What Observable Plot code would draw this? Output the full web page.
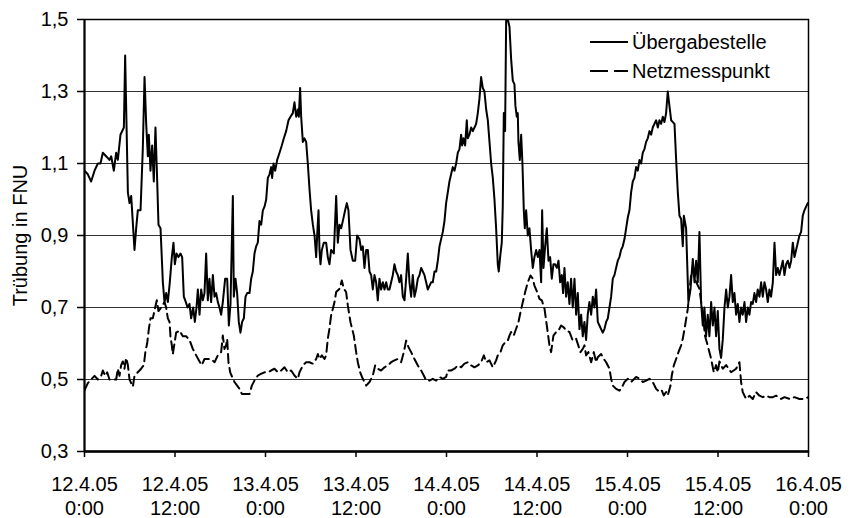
<!DOCTYPE html>
<html>
<head>
<meta charset="utf-8">
<script src="https://cdn.jsdelivr.net/npm/d3@7"></script>
<script src="https://cdn.jsdelivr.net/npm/@observablehq/plot@0.6"></script>
<style>
  html, body { margin: 0; padding: 0; background: #fff; }
  #chart { position: relative; width: 858px; height: 518px; }
</style>
</head>
<body>
<div id="chart"></div>
<script>
// Hours since 12.4.05 0:00 and turbidity (FNU)
const seriesNames = ["Übergabestelle", "Netzmesspunkt"];

const uebergabe = [
[0,1.08],[0.44,1.07],[0.88,1.05],[1.33,1.08],[1.77,1.10],[2.12,1.10],[2.43,1.13],[2.87,1.12],[3.31,1.11],[3.54,1.12],[3.89,1.08],[4.20,1.13],[4.42,1.11],[4.77,1.18],[5.22,1.20],[5.39,1.40],[5.57,1.21],[5.75,1.02],[5.97,0.99],[6.19,1.01],[6.63,0.86],[6.85,0.92],[7.07,0.97],[7.43,0.97],[7.73,1.14],[7.96,1.34],[8.18,1.21],[8.40,1.12],[8.53,1.18],[8.75,1.08],[8.97,1.15],[9.19,1.05],[9.41,1.20],[9.64,1.05],[9.81,0.93],[10.08,0.92],[10.39,0.77],[10.61,0.715],[10.83,0.74],[11.05,0.715],[11.31,0.77],[11.58,0.84],[11.80,0.88],[11.98,0.82],[12.20,0.85],[12.46,0.84],[12.73,0.85],[12.95,0.84],[13.17,0.73],[13.44,0.715],[13.66,0.70],[13.92,0.71],[14.14,0.67],[14.41,0.70],[14.63,0.66],[14.85,0.70],[15.03,0.75],[15.25,0.68],[15.47,0.75],[15.69,0.72],[15.91,0.74],[16.13,0.85],
[16.35,0.72],[16.57,0.78],[16.79,0.715],[17.02,0.79],[17.24,0.73],[17.46,0.74],[17.68,0.715],[17.90,0.70],[18.12,0.68],[18.34,0.715],[18.65,0.78],[18.92,0.78],[19.14,0.65],[19.36,0.71],[19.67,1.01],[19.80,0.73],[20.02,0.78],[20.24,0.74],[20.46,0.66],[20.68,0.63],[20.90,0.66],[21.13,0.67],[21.35,0.73],[21.57,0.74],[21.88,0.74],[22.10,0.78],[22.32,0.80],[22.54,0.85],[22.76,0.87],[22.98,0.88],[23.20,0.94],[23.43,0.93],[23.65,0.97],[23.87,0.98],[24.09,1.00],[24.31,1.06],[24.53,1.07],[24.75,1.09],[24.88,1.06],[25.06,1.10],[25.28,1.08],[25.55,1.11],[25.86,1.13],[26.16,1.15],[26.43,1.17],[26.74,1.19],[27.05,1.22],[27.31,1.23],[27.62,1.24],[27.84,1.27],[28.07,1.23],[28.29,1.25],[28.42,1.23],[28.59,1.31],[28.73,1.23],[28.95,1.16],[29.17,1.17],[29.39,1.16],[29.61,1.10],[29.83,1.03],[30.05,0.97],[30.28,0.93],[30.50,0.90],[30.72,0.84],[30.85,0.90],[31.03,0.97],[31.16,0.86],[31.29,0.82],[31.47,0.86],[31.73,0.88],
[32.04,0.88],[32.26,0.84],[32.48,0.82],[32.70,0.86],[33.06,0.85],[33.37,1.01],[33.59,0.88],[33.81,0.93],[34.03,0.92],[34.25,0.94],[34.56,0.97],[34.78,0.99],[35.00,0.97],[35.27,0.86],[35.58,0.83],[35.89,0.83],[36.15,0.90],[36.46,0.89],[36.68,0.86],[36.90,0.87],[37.12,0.81],[37.35,0.86],[37.57,0.86],[37.79,0.80],[38.01,0.79],[38.23,0.75],[38.45,0.79],[38.67,0.77],[38.89,0.72],[39.11,0.78],[39.33,0.75],[39.56,0.77],[39.78,0.75],[40.00,0.77],[40.22,0.75],[40.44,0.75],[40.66,0.77],[40.88,0.79],[41.10,0.82],[41.32,0.80],[41.54,0.79],[41.76,0.77],[41.98,0.79],[42.21,0.73],[42.43,0.72],[42.65,0.78],[42.87,0.85],[43.09,0.77],[43.31,0.73],[43.53,0.79],[43.75,0.73],[43.97,0.75],[44.20,0.78],[44.42,0.79],[44.64,0.81],[44.86,0.80],[45.08,0.79],[45.30,0.77],[45.52,0.75],[45.74,0.76],[45.96,0.77],[46.18,0.77],[46.41,0.80],[46.63,0.80],[46.85,0.83],[47.07,0.87],[47.29,0.89],[47.51,0.91],[47.73,0.94],[47.95,0.99],
[48.17,1.02],[48.39,1.05],[48.61,1.07],[48.83,1.09],[49.06,1.08],[49.28,1.10],[49.50,1.13],[49.72,1.14],[49.94,1.18],[50.07,1.15],[50.25,1.17],[50.47,1.15],[50.69,1.22],[50.82,1.17],[51.04,1.18],[51.27,1.20],[51.49,1.19],[51.71,1.20],[51.93,1.21],[52.15,1.24],[52.37,1.28],[52.59,1.34],[52.81,1.31],[53.03,1.30],[53.26,1.25],[53.48,1.22],[53.70,1.16],[53.92,1.10],[54.14,1.06],[54.36,1.00],[54.58,0.92],[54.80,0.82],[54.93,0.80],[55.11,0.84],[55.33,0.88],[55.46,0.98],[55.60,1.24],[55.77,1.19],[55.91,1.50],[56.13,1.50],[56.35,1.48],[56.57,1.39],[56.79,1.33],[57.01,1.32],[57.14,1.26],[57.32,1.23],[57.45,1.24],[57.54,1.16],[57.72,1.11],[57.90,1.18],[58.07,1.10],[58.25,0.97],[58.38,0.92],[58.56,0.97],[58.78,0.90],[59.00,0.92],[59.22,0.86],[59.44,0.81],[59.66,0.84],[59.89,0.86],[60.11,0.84],[60.33,0.86],[60.55,0.77],[60.68,0.97],[60.86,0.81],[61.08,0.87],[61.30,0.92],[61.52,0.83],[61.74,0.84],[61.96,0.78],[62.18,0.82],[62.40,0.82],[62.63,0.81],[62.85,0.83],[63.07,0.77],[63.29,0.79],[63.46,0.74],
[63.64,0.81],[63.86,0.73],[64.08,0.77],[64.30,0.71],[64.52,0.78],[64.74,0.70],[64.97,0.78],[65.19,0.68],[65.41,0.74],[65.63,0.64],[65.85,0.68],[66.07,0.62],[66.29,0.66],[66.51,0.61],[66.73,0.68],[66.95,0.715],[67.18,0.68],[67.40,0.73],[67.62,0.70],[67.84,0.75],[68.06,0.66],[68.28,0.65],[68.50,0.64],[68.72,0.63],[68.94,0.64],[69.17,0.66],[69.39,0.67],[69.61,0.70],[69.83,0.73],[70.05,0.78],[70.27,0.79],[70.49,0.81],[70.71,0.83],[70.93,0.84],[71.15,0.86],[71.37,0.87],[71.60,0.89],[71.82,0.92],[72.04,0.95],[72.26,0.97],[72.48,1.02],[72.70,1.05],[72.92,1.06],[73.14,1.09],[73.36,1.08],[73.59,1.11],[73.81,1.10],[74.03,1.13],[74.25,1.14],[74.47,1.16],[74.69,1.17],[74.91,1.19],[75.13,1.18],[75.35,1.20],[75.57,1.21],[75.80,1.22],[76.02,1.20],[76.24,1.22],[76.46,1.21],[76.68,1.23],[76.90,1.215],[77.12,1.24],[77.34,1.30],[77.56,1.26],[77.79,1.22],[78.23,1.21],[78.45,1.11],[78.67,1.02],[78.89,0.955],[79.11,0.946],[79.33,0.87],[79.47,0.955],
[79.77,0.92],[80.08,0.715],[80.35,0.75],[80.66,0.835],[80.88,0.77],[81.10,0.83],[81.32,0.77],[81.54,0.91],[81.76,0.715],[81.98,0.65],[82.20,0.70],[82.42,0.62],[82.64,0.68],[82.86,0.62],[83.09,0.715],[83.31,0.65],[83.53,0.70],[83.75,0.62],[83.97,0.69],[84.19,0.585],[84.41,0.56],[84.63,0.61],[84.86,0.70],[85.08,0.75],[85.30,0.70],[85.52,0.73],[85.74,0.79],[85.96,0.715],[86.18,0.74],[86.40,0.68],[86.62,0.71],[86.84,0.66],[87.06,0.70],[87.28,0.68],[87.51,0.715],[87.73,0.66],[87.95,0.70],[88.17,0.68],[88.39,0.715],[88.61,0.71],[88.83,0.74],[89.05,0.715],[89.27,0.75],[89.50,0.73],[89.72,0.77],[89.94,0.73],[90.16,0.77],[90.38,0.75],[90.60,0.715],[90.82,0.75],[91.04,0.73],[91.27,0.77],[91.49,0.88],[91.71,0.79],[91.93,0.81],[92.15,0.79],[92.37,0.81],[92.59,0.83],[92.81,0.79],[93.03,0.82],[93.26,0.83],[93.48,0.81],[93.70,0.83],[93.92,0.88],[94.14,0.84],[94.36,0.86],[94.58,0.88],[94.80,0.90],[95.02,0.91],[95.24,0.955],[95.46,0.97],[95.68,0.98],[95.90,0.99]
];

const netz = [
[0,0.47],[0.44,0.49],[0.88,0.50],[1.33,0.51],[1.77,0.50],[2.21,0.51],[2.43,0.525],[2.74,0.51],[3.01,0.52],[3.31,0.50],[3.76,0.50],[4.20,0.50],[4.42,0.53],[4.64,0.51],[4.86,0.54],[5.08,0.55],[5.30,0.53],[5.52,0.56],[5.75,0.54],[5.97,0.50],[6.19,0.49],[6.41,0.48],[6.63,0.51],[7.07,0.52],[7.51,0.53],[7.87,0.54],[8.09,0.58],[8.31,0.60],[8.53,0.64],[8.75,0.67],[9.06,0.67],[9.37,0.70],[9.59,0.72],[9.81,0.69],[10.17,0.70],[10.61,0.715],[10.83,0.70],[11.05,0.67],[11.27,0.66],[11.40,0.62],[11.58,0.595],[11.71,0.57],[12.15,0.63],[12.60,0.636],[13.04,0.62],[13.48,0.62],[13.92,0.61],[14.36,0.585],[14.81,0.567],[15.25,0.55],[15.56,0.54],[15.91,0.557],
[16.35,0.557],[16.79,0.557],[17.24,0.548],[17.68,0.567],[18.12,0.576],[18.34,0.622],[18.56,0.585],[18.78,0.595],[18.92,0.613],[19.09,0.548],[19.32,0.52],[19.58,0.507],[19.89,0.493],[20.24,0.483],[20.55,0.474],[20.86,0.46],[21.21,0.46],[21.88,0.46],[22.19,0.483],[22.54,0.497],[22.98,0.511],[23.43,0.516],[23.87,0.52],[24.31,0.52],[24.75,0.525],[25.19,0.53],[25.64,0.52],[26.08,0.525],[26.52,0.534],[26.96,0.52],[27.40,0.525],[27.84,0.511],[28.29,0.502],[28.51,0.52],[28.95,0.539],[29.39,0.548],[29.83,0.548],[30.28,0.544],[30.72,0.557],[30.94,0.571],[31.16,0.557],[31.47,0.567],[31.82,0.557],
[32.04,0.567],[32.26,0.613],[32.48,0.641],[32.70,0.678],[32.92,0.696],[33.15,0.715],[33.37,0.743],[33.81,0.752],[34.12,0.775],[34.38,0.752],[34.69,0.743],[34.92,0.705],[35.27,0.659],[35.71,0.622],[36.02,0.576],[36.24,0.548],[36.55,0.52],[36.90,0.502],[37.35,0.483],[37.79,0.493],[38.23,0.511],[38.54,0.539],[38.89,0.53],[39.33,0.525],[39.78,0.534],[40.22,0.539],[40.66,0.548],[41.10,0.553],[41.54,0.557],[41.98,0.548],[42.34,0.576],[42.65,0.608],[42.96,0.59],[43.31,0.576],[43.75,0.557],[44.20,0.539],[44.64,0.525],[44.99,0.511],[45.30,0.497],[45.74,0.497],[46.18,0.502],[46.63,0.497],[47.07,0.507],[47.51,0.502],[47.95,0.507],
[48.17,0.525],[48.61,0.525],[49.06,0.53],[49.50,0.539],[49.94,0.534],[50.38,0.544],[50.82,0.548],[51.27,0.539],[51.71,0.534],[52.15,0.539],[52.59,0.548],[52.95,0.567],[53.26,0.548],[53.70,0.553],[54.14,0.534],[54.58,0.553],[54.80,0.567],[55.16,0.576],[55.46,0.595],[55.82,0.604],[56.13,0.608],[56.35,0.622],[56.57,0.632],[56.92,0.622],[57.23,0.641],[57.54,0.659],[57.81,0.687],[58.12,0.715],[58.43,0.743],[58.78,0.77],[59.14,0.789],[59.44,0.78],[59.66,0.761],[60.02,0.743],[60.33,0.724],[60.64,0.72],[61.0,0.696],[61.30,0.65],[61.65,0.595],[61.87,0.576],[62.18,0.622],[62.54,0.632],[62.85,0.636],[63.20,0.65],[63.55,0.645],
[63.86,0.636],[64.30,0.632],[64.74,0.608],[65.19,0.613],[65.41,0.599],[65.76,0.576],[66.07,0.585],[66.29,0.595],[66.51,0.567],[66.82,0.576],[67.18,0.548],[67.53,0.576],[67.84,0.548],[68.06,0.562],[68.50,0.571],[68.86,0.557],[69.17,0.548],[69.61,0.53],[69.83,0.502],[70.05,0.483],[70.49,0.474],[70.93,0.469],[71.37,0.483],[71.60,0.493],[72.04,0.502],[72.48,0.493],[73.14,0.507],[73.59,0.502],[74.03,0.493],[74.47,0.497],[74.91,0.502],[75.35,0.493],[75.80,0.474],[76.24,0.465],[76.55,0.469],[76.81,0.456],[77.12,0.465],[77.34,0.456],[77.70,0.483],[77.87,0.511],[78.14,0.539],[78.45,0.557],[78.76,0.576],[79.11,0.595],[79.33,0.613],[79.64,0.65],
[79.99,0.696],[80.21,0.743],[80.43,0.789],[80.66,0.807],[80.88,0.78],[81.54,0.752],[81.98,0.68],[82.29,0.62],[82.64,0.594],[83.09,0.557],[83.44,0.52],[83.75,0.54],[83.97,0.52],[84.19,0.55],[84.63,0.53],[85.08,0.54],[85.74,0.52],[86.40,0.53],[86.84,0.548],[87.06,0.493],[87.28,0.465],[87.73,0.446],[88.17,0.455],[88.61,0.446],[89.05,0.465],[89.50,0.455],[89.94,0.451],[90.38,0.455],[90.82,0.451],[91.27,0.451],[91.71,0.455],[92.37,0.446],[92.81,0.451],[93.48,0.446],[94.14,0.451],[94.80,0.446],[95.46,0.446],[96,0.451]
];

const yTicks = [0.3, 0.5, 0.7, 0.9, 1.1, 1.3, 1.5];
const gridValues = [0.5, 0.7, 0.9, 1.1, 1.3];
const xTickHours = [0, 12, 24, 36, 48, 60, 72, 84, 96];
const yLabel = "Trübung in FNU";

const start = Date.UTC(2005, 3, 12, 0, 0);
const toDate = h => new Date(start + h * 3600e3);
const uData = uebergabe.map(([h, v]) => ({t: toDate(h), v}));
const nData = netz.map(([h, v]) => ({t: toDate(h), v}));
const xTicks = xTickHours.map(toDate);

const fmtX = d => `${d.getUTCDate()}.${d.getUTCMonth() + 1}.05\n${d.getUTCHours()}:${String(d.getUTCMinutes()).padStart(2, "0")}`;
const fmtY = d => d.toFixed(1).replace(".", ",");

const font = "'Liberation Sans', Arial, sans-serif";

const chart = Plot.plot({
  width: 858,
  height: 518,
  marginLeft: 84,
  marginRight: 50,
  marginTop: 19,
  marginBottom: 67,
  style: {fontFamily: font, fontSize: "20px", color: "#000", background: "#fff", overflow: "visible"},
  x: {type: "utc", domain: [toDate(0), toDate(96)]},
  y: {domain: [0.3, 1.5]},
  marks: [
    Plot.ruleY(gridValues, {stroke: "#333", strokeWidth: 1}),
    Plot.line(nData, {x: "t", y: "v", stroke: "#000", strokeWidth: 2, strokeDasharray: "9,5", clip: true}),
    Plot.line(uData, {x: "t", y: "v", stroke: "#000", strokeWidth: 2, clip: true}),
    Plot.frame({stroke: "#000", strokeWidth: 1.5}),
    Plot.ruleY([0.3], {stroke: "#000", strokeWidth: 2.5}),
    Plot.ruleX([toDate(0)], {stroke: "#000", strokeWidth: 2}),
    Plot.axisX({ticks: xTicks, tickFormat: fmtX, tickSize: 6, tickPadding: 16, lineHeight: 1.2, fontSize: 20, stroke: "#000", strokeWidth: 1.5, label: null}),
    Plot.axisY({ticks: yTicks, tickFormat: fmtY, tickSize: 7, tickPadding: 9, fontSize: 20, stroke: "#000", strokeWidth: 1.5, label: null}),
    Plot.text([yLabel], {frameAnchor: "left", textAnchor: "middle", lineAnchor: "middle", rotate: -90, dx: -64, dy: 0, fontSize: 20, fill: "#000"})
  ]
});

const container = document.getElementById("chart");
container.appendChild(chart);

// Legend (inside plot, top right)
const svg = d3.select(chart);
const lg = svg.append("g").attr("font-family", font).attr("font-size", 20)
  .attr("fill", "#000").attr("text-anchor", "start");
const legendItems = [
  {name: seriesNames[0], dash: null},
  {name: seriesNames[1], dash: "18,6"}
];
legendItems.forEach((it, i) => {
  const y = 42 + i * 29;
  lg.append("line").attr("x1", 590).attr("x2", 628).attr("y1", y).attr("y2", y)
    .attr("stroke", "#000").attr("stroke-width", 2.2).attr("stroke-dasharray", it.dash);
  lg.append("text").attr("x", 632).attr("y", y + 7).attr("text-anchor", "start").text(it.name);
});
</script>
</body>
</html>
